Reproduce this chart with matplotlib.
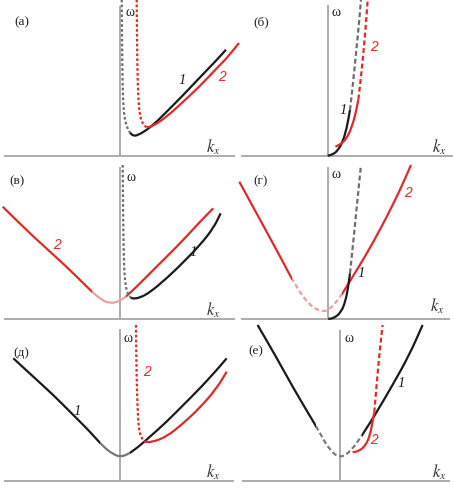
import numpy as np
import matplotlib
matplotlib.use("Agg")
import matplotlib.pyplot as plt
from matplotlib.path import Path
from matplotlib.patches import PathPatch, Rectangle

plt.rcParams['mathtext.fontset'] = 'stix'

BLACK = '#1a1a1a'
RED = '#e02a2a'
GREY = '#ababab'
PALE_RED = '#eaa0a0'
DOT_GREY = '#6d6d6d'

# panel letters (Cyrillic)
panel_tags = ['(а)', '(б)', '(в)', '(г)', '(д)', '(е)']

# ---- curves: (k_x, omega) in pixel units from the origin ----
# (a)
a_k1_dot = [(1.7, 156), (2.0, 122), (2.3, 89), (3.0, 56), (4.3, 39), (6.7, 29), (10, 23)]
a_k1 = [(10, 23), (13.3, 19.7), (18.3, 20.7), (26.7, 25.7), (36.7, 34), (46.7, 44),
        (63.3, 60.7), (80, 78.4), (96.7, 95.7), (106, 106)]
a_k2_dot = [(16.7, 156), (17.3, 89), (18.3, 56), (20, 39), (23.3, 30.7), (26.7, 28.4)]
a_k2 = [(26.7, 28.4), (33.3, 29.7), (46.7, 39), (63.3, 54), (80, 69.7), (96.7, 87.4),
        (106.7, 97.4), (119, 112.7)]
# (б)
b_k1 = [(0, 0), (5, 1.3), (10, 5), (15, 14), (19, 27.3), (22.3, 45.7)]
b_k1_dash = [(22.3, 45.7), (25.3, 72.3), (28.3, 102.3), (31, 129), (33.3, 156)]
b_k2 = [(7.7, 9), (13.3, 11.7), (19, 17.3), (24.3, 29), (28.3, 44), (30.7, 56.3)]
b_k2_dash = [(30.7, 56.3), (33.3, 79), (36, 105.7), (38.3, 132.3), (40, 156)]
# (в)
c_k2 = [(-117.3, 112.3), (-86.7, 82.3), (-53.3, 52.3), (-33.3, 32.3), (-20, 20),
        (-10, 15.3), (0, 18), (10, 25.7), (30, 45.7), (46.7, 62.3), (63.3, 79),
        (80, 97.3), (93.3, 110.7)]
c_k2_pale = (-28, 6)
c_k1_dot = [(2.7, 154), (3.0, 121), (3.3, 87), (4.0, 54), (5.0, 37.3), (7.3, 25.7), (10.7, 21.3)]
c_k1 = [(10.7, 21.3), (13.3, 20.3), (20, 21.3), (30, 26.7), (46.7, 40.7), (63.3, 56.7),
        (80, 74), (93.3, 90.7), (100.7, 105.7)]
# (г)
d_k2 = [(-89, 137.3), (-69, 100.7), (-49, 64), (-32.3, 32.3), (-19, 14), (-7.3, 7.3),
        (1, 9), (11, 20.7), (21, 36.7), (37.7, 64), (54.3, 94), (71, 127.3), (82.7, 154)]
d_k2_pale = (-36, 14)
d_k1 = [(0, 0), (6, 1), (12.7, 6.7), (17, 17.3), (19.7, 30.7), (21.7, 45.7)]
d_k1_dash = [(21.7, 45.7), (25, 77.3), (28.3, 110.7), (32.7, 154)]
# (д)
e_k1 = [(-106.7, 122.7), (-86.7, 104.3), (-66.7, 86), (-46.7, 66), (-30, 49.3),
        (-16.7, 34.3), (-6.7, 26.7), (0, 24.3), (6.7, 26), (16.7, 32.7), (30, 44.3),
        (46.7, 59.3), (63.3, 76), (80, 92.7), (96.7, 111), (106.7, 122.7)]
e_k1_pale = (-20, 10)
e_k2_dot = [(16, 156), (16.3, 122.7), (17, 89.3), (18, 62.7), (19.3, 49.3), (21.7, 42.7), (25, 39.3)]
e_k2 = [(25, 39.3), (31.7, 38.7), (46.7, 44.3), (63.3, 57.7), (80, 73.3), (96.7, 92.7),
        (106.7, 109.3)]
# (е)
f_k1 = [(-82.7, 156), (-64.3, 124.3), (-47.7, 94.3), (-31, 66), (-21, 49.3), (-11, 31),
        (0, 22.7), (10.7, 30), (22, 46), (35.7, 67.7), (52.3, 96), (69, 126), (82.3, 156)]
f_k1_pale = (-24, 22)
f_k2 = [(12.3, 28.7), (19, 30), (25.7, 36), (29.7, 46), (32.3, 59.3), (34, 68.7)]
f_k2_dash = [(34, 68.7), (36.3, 96), (39, 126), (42.3, 156)]

# panel geometry: origin in px, axis extents
origins = [(120, 155.7), (327.7, 155.7), (120, 319), (328.3, 319), (120, 481), (340.3, 481)]
x_span = [(-115, 114), (-86, 125), (-115, 114), (-86, 121), (-115, 113), (-97, 109)]
y_top = [149, 150, 151, 151, 151, 150]
tag_pos = [(22, 22), (261, 22.7), (16.7, 181.7), (261, 181.7), (21.7, 353.3), (256, 351.7)]
omega_pos = [(130, 12), (336, 12.3), (130.7, 177.3), (336, 174), (128.3, 339), (349.3, 339)]
kx_pos = [(213, 147), (439, 147.7), (213, 310), (437.7, 306), (213.3, 472.7), (439.3, 472.7)]
lab1_pos = [(181.7, 80), (342.7, 110), (193.3, 252.3), (361, 273.3), (76.7, 411.7), (401, 383.3)]
lab2_pos = [(221.7, 76.7), (374.3, 46.7), (56.7, 245), (407.7, 193.3), (146.7, 371.7), (374.3, 440)]

W, H = 453, 488
fig = plt.figure(figsize=(W / 100, H / 100), dpi=100)
ax = fig.add_axes([0, 0, 1, 1])
ax.set_xlim(0, W)
ax.set_ylim(H, 0)
ax.axis('off')


def smooth_path(pts, o):
    p = np.array(pts, dtype=float)
    x = o[0] + p[:, 0]
    y = o[1] - p[:, 1]
    q = np.column_stack([x, y])
    if len(q) < 3:
        return Path(q)
    verts = [q[0], (q[0] + q[1]) / 2]
    codes = [Path.MOVETO, Path.LINETO]
    for i in range(1, len(q) - 1):
        verts += [q[i], (q[i] + q[i + 1]) / 2]
        codes += [Path.CURVE3, Path.CURVE3]
    verts.append(q[-1])
    codes.append(Path.LINETO)
    return Path(verts, codes)


def line(pts, o, color, style='-', lw=1.6, z=3, clip=None):
    patch = PathPatch(smooth_path(pts, o), fill=False, edgecolor=color, lw=lw,
                      linestyle=style, zorder=z, capstyle='butt')
    ax.add_patch(patch)
    if clip is not None:
        patch.set_clip_path(clip)


def split_pale(pts, rng, o, color, pale, style='-'):
    x0, x1 = o[0] + rng[0], o[0] + rng[1]
    parts = [((0, x0), color, '-'), ((x0, x1), pale, style), ((x1, W), color, '-')]
    for (a, b), c, s in parts:
        r = Rectangle((a, 0), b - a, H, transform=ax.transData, visible=False)
        ax.add_patch(r)
        line(pts, o, c, s, clip=r)


dotted = (0, (1.2, 1.0))
dashed = (0, (2.2, 1.3))

for i, o in enumerate(origins):
    x0, x1 = x_span[i]
    ax.plot([o[0] + x0, o[0] + x1], [o[1], o[1]], color=GREY, lw=1.4, zorder=1)
    ax.plot([o[0], o[0]], [o[1], o[1] - y_top[i]], color=GREY, lw=1.4, zorder=1)
    ax.text(*tag_pos[i], panel_tags[i], fontsize=9.5, family='Liberation Serif',
            ha='center', va='center', color='#222222')
    ax.text(*omega_pos[i], 'ω', fontsize=10, family='Liberation Serif',
            ha='center', va='center', color='#222222')
    ax.text(*kx_pos[i], '$k_x$', fontsize=12, ha='center', va='center', color='#333333')
    ax.text(*lab1_pos[i], '1', fontsize=10.5, family='Liberation Serif', style='italic',
            ha='center', va='center', color=BLACK)
    ax.text(*lab2_pos[i], '2', fontsize=10, family='Liberation Sans', style='italic',
            ha='center', va='center', color=RED)

o = origins
# (a)
line(a_k1_dot, o[0], DOT_GREY, dotted)
line(a_k1, o[0], BLACK)
line(a_k2_dot, o[0], RED, dotted)
line(a_k2, o[0], RED)
# (б)
line(b_k1, o[1], BLACK)
line(b_k1_dash, o[1], DOT_GREY, dashed)
line(b_k2, o[1], RED)
line(b_k2_dash, o[1], RED, dashed)
# (в)
split_pale(c_k2, c_k2_pale, o[2], RED, PALE_RED, '-')
line(c_k1_dot, o[2], DOT_GREY, dotted)
line(c_k1, o[2], BLACK)
# (г)
split_pale(d_k2, d_k2_pale, o[3], RED, PALE_RED, dashed)
line(d_k1, o[3], BLACK)
line(d_k1_dash, o[3], DOT_GREY, dashed)
# (д)
split_pale(e_k1, e_k1_pale, o[4], BLACK, '#777777', '-')
line(e_k2_dot, o[4], RED, dotted)
line(e_k2, o[4], RED)
# (е)
split_pale(f_k1, f_k1_pale, o[5], BLACK, '#7a7a7a', dashed)
line(f_k2, o[5], RED)
line(f_k2_dash, o[5], RED, dashed)

fig.savefig('out.png', dpi=100)
